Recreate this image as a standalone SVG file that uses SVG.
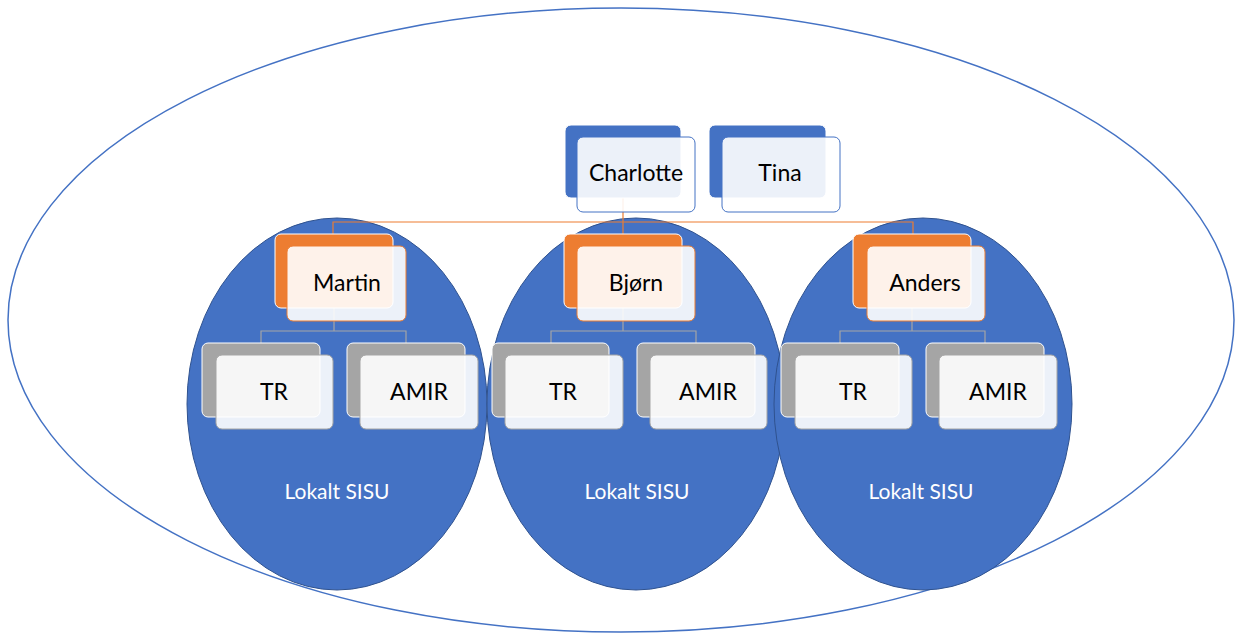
<svg xmlns="http://www.w3.org/2000/svg" width="1236" height="634" viewBox="0 0 1236 634">
<style>
.outer{fill:none;stroke:#4472C4;stroke-width:1.5}
.sisu{fill:#4472C4;stroke:#2F528F;stroke-width:1}
.bb{fill:#4472C4;stroke:#fff;stroke-width:1}
.bf{fill:#fff;fill-opacity:0.9;stroke:#4472C4;stroke-width:1}
.ob{fill:#ED7D31;stroke:#fff;stroke-width:1}
.of{fill:#fff;fill-opacity:0.9;stroke:#ED7D31;stroke-width:1}
.gb{fill:#A5A5A5;stroke:#fff;stroke-width:1}
.gf{fill:#fff;fill-opacity:0.9;stroke:#A5A5A5;stroke-width:1}
.t{font-family:Lato,"Open Sans",sans-serif;font-size:23px;fill:#000;text-anchor:middle}
.w{font-family:Lato,"Open Sans",sans-serif;font-size:21px;fill:#fff;text-anchor:middle}
.oc{fill:none;stroke:#ED7D31;stroke-width:1.2}
.gc{fill:none;stroke:#A5A5A5;stroke-width:1.2}
</style>
<rect width="1236" height="634" fill="#fff"/>
<ellipse class="outer" cx="621" cy="320" rx="613" ry="312"/>
<g id="sisu-left"><ellipse class="sisu" cx="337" cy="404" rx="150" ry="186"/><text class="w" x="337" y="499">Lokalt SISU</text></g>
<g id="sisu-mid"><ellipse class="sisu" cx="636" cy="404" rx="149" ry="186"/><text class="w" x="637" y="499">Lokalt SISU</text></g>
<g id="sisu-right"><ellipse class="sisu" cx="923" cy="404" rx="149" ry="186"/><text class="w" x="921" y="499">Lokalt SISU</text></g>
<g id="connectors">
<path class="oc" d="M623,198 V234 M333,234 V222 H913 V234"/>
<path class="gc" d="M334,308 V331 M261,343 V331 H406 V343"/>
<path class="gc" d="M623,308 V331 M551,343 V331 H696 V343"/>
<path class="gc" d="M912,308 V331 M840,343 V331 H985 V343"/>
</g>
<g id="charlotte"><rect class="bb" x="565" y="125" width="116" height="73" rx="6"/><rect class="bf" x="577" y="137" width="118" height="75" rx="6"/><text class="t" x="636" y="181">Charlotte</text></g>
<g id="tina"><rect class="bb" x="709" y="125" width="117" height="73" rx="6"/><rect class="bf" x="722" y="137" width="118" height="75" rx="6"/><text class="t" x="780" y="181">Tina</text></g>
<g id="martin"><rect class="ob" x="275" y="234" width="118" height="74" rx="6"/><rect class="of" x="287" y="246" width="119" height="75" rx="6"/><text class="t" x="347" y="291">Martin</text></g>
<g id="bjorn"><rect class="ob" x="564" y="234" width="118" height="74" rx="6"/><rect class="of" x="577" y="246" width="118" height="75" rx="6"/><text class="t" x="636" y="291">Bjørn</text></g>
<g id="anders"><rect class="ob" x="853" y="234" width="118" height="74" rx="6"/><rect class="of" x="867" y="246" width="118" height="75" rx="6"/><text class="t" x="925" y="291">Anders</text></g>
<g id="tr-1"><rect class="gb" x="202" y="343" width="118" height="74" rx="6"/><rect class="gf" x="216" y="355" width="117" height="74" rx="6"/><text class="t" x="274" y="400">TR</text></g>
<g id="amir-1"><rect class="gb" x="347" y="343" width="118" height="74" rx="6"/><rect class="gf" x="360" y="355" width="118" height="74" rx="6"/><text class="t" x="419" y="400">AMIR</text></g>
<g id="tr-2"><rect class="gb" x="492" y="343" width="117" height="74" rx="6"/><rect class="gf" x="505" y="355" width="118" height="74" rx="6"/><text class="t" x="563" y="400">TR</text></g>
<g id="amir-2"><rect class="gb" x="637" y="343" width="118" height="74" rx="6"/><rect class="gf" x="650" y="355" width="117" height="74" rx="6"/><text class="t" x="708" y="400">AMIR</text></g>
<g id="tr-3"><rect class="gb" x="781" y="343" width="118" height="74" rx="6"/><rect class="gf" x="795" y="355" width="117" height="74" rx="6"/><text class="t" x="853" y="400">TR</text></g>
<g id="amir-3"><rect class="gb" x="926" y="343" width="118" height="74" rx="6"/><rect class="gf" x="939" y="355" width="118" height="74" rx="6"/><text class="t" x="998" y="400">AMIR</text></g>
</svg>
